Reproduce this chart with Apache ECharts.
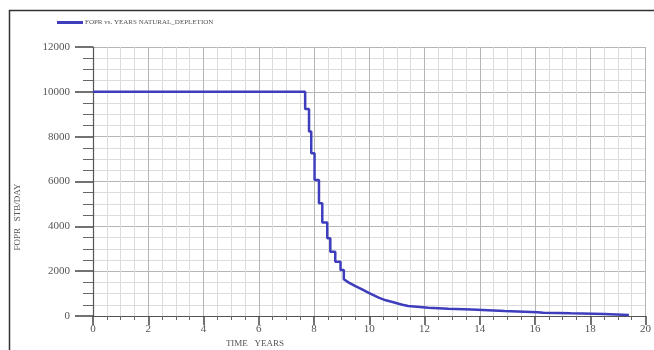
<!DOCTYPE html>
<html>
<head>
<meta charset="utf-8">
<script src="https://cdn.jsdelivr.net/npm/echarts@6/dist/echarts.min.js"></script>
<style>
  html, body { margin: 0; padding: 0; background: #fff; }
  #chart { width: 654px; height: 350px; }
</style>
</head>
<body>
<div id="chart"></div>
<script>
// Field oil production rate, natural depletion case
const seriesName = 'FOPR vs. YEARS NATURAL_DEPLETION';
const years = [
  0, 7.68, 7.68, 7.82, 7.82, 7.90, 7.90, 8.02, 8.02, 8.18, 8.18, 8.30, 8.30,
  8.48, 8.48, 8.59, 8.59, 8.77, 8.77, 8.96, 8.96, 9.08, 9.08, 9.26, 9.50,
  9.74, 10.00, 10.34, 10.60, 10.94, 11.20, 11.41, 12.14, 12.86, 13.70, 14.90,
  16.10, 16.30, 17.30, 18.50, 19.40
];
const fopr = [
  10000, 10000, 9230, 9230, 8230, 8230, 7260, 7260, 6070, 6070, 5030, 5030, 4170,
  4170, 3470, 3470, 2870, 2870, 2420, 2420, 2050, 2050, 1640, 1490, 1330,
  1190, 1020, 820, 700, 590, 500, 450, 370, 325, 295, 225,
  170, 150, 120, 90, 50
];
const xTicks = { min: 0, max: 20, interval: 2 };
const yTicks = { min: 0, max: 12000, interval: 2000 };

const labelFont = { fontFamily: 'Liberation Serif', color: '#555', fontSize: 11 };

const chart = echarts.init(document.getElementById('chart'), null, { renderer: 'canvas' });
chart.setOption({
  animation: false,
  backgroundColor: '#fff',
  legend: {
    left: 52, top: 14,
    itemWidth: 26, itemHeight: 3, itemGap: 0,
    icon: 'rect',
    textStyle: { fontFamily: 'Liberation Serif', fontSize: 7, color: '#555', padding: [0, 0, 0, -3] },
    data: [seriesName]
  },
  grid: { left: 93, right: 6, top: 47, bottom: 34, containLabel: false },
  xAxis: {
    type: 'value',
    min: xTicks.min, max: xTicks.max, interval: xTicks.interval,
    axisLine: { onZero: false, lineStyle: { color: '#555', width: 1.2 } },
    axisTick: { show: true, inside: false, length: 9, lineStyle: { color: '#444', width: 1.5 } },
    minorTick: { show: true, splitNumber: 4, length: 4, lineStyle: { color: '#666' } },
    axisLabel: Object.assign({ margin: 8, formatter: v => String(v) }, labelFont),
    splitLine: { show: true, lineStyle: { color: '#b5b5b5', width: 1 } },
    minorSplitLine: { show: true, lineStyle: { color: '#dcdcdc', width: 1 } }
  },
  yAxis: {
    type: 'value',
    min: yTicks.min, max: yTicks.max, interval: yTicks.interval,
    axisLine: { show: true, onZero: false, lineStyle: { color: '#555', width: 1.2 } },
    axisTick: { show: true, inside: false, length: 18, lineStyle: { color: '#444', width: 1.5 } },
    minorTick: { show: true, splitNumber: 4, length: 10, lineStyle: { color: '#666' } },
    axisLabel: Object.assign({ margin: 23, formatter: v => String(v) }, labelFont),
    splitLine: { show: true, lineStyle: { color: '#b5b5b5', width: 1 } },
    minorSplitLine: { show: true, lineStyle: { color: '#dcdcdc', width: 1 } }
  },
  graphic: [
    {
      type: 'rect', silent: true, z: 100,
      shape: { x: 9.5, y: 10.5, width: 700, height: 400 },
      style: { fill: 'none', stroke: '#333', lineWidth: 1.5 }
    },
    {
      type: 'text', x: 18, y: 217, rotation: Math.PI / 2,
      style: {
        text: 'FOPR   STB/DAY', fontFamily: 'Liberation Serif', fontSize: 9,
        fill: '#555', align: 'center', verticalAlign: 'middle'
      }
    },
    {
      type: 'text', x: 255, y: 344,
      style: {
        text: 'TIME   YEARS', fontFamily: 'Liberation Serif', fontSize: 9,
        fill: '#555', align: 'center', verticalAlign: 'middle'
      }
    }
  ],
  series: [{
    name: seriesName,
    type: 'line',
    data: years.map((t, i) => [t, fopr[i]]),
    showSymbol: false,
    color: '#3e3ebd',
    lineStyle: { color: '#3e3ebd', width: 2.5 },
    z: 5
  }]
});
</script>
</body>
</html>
